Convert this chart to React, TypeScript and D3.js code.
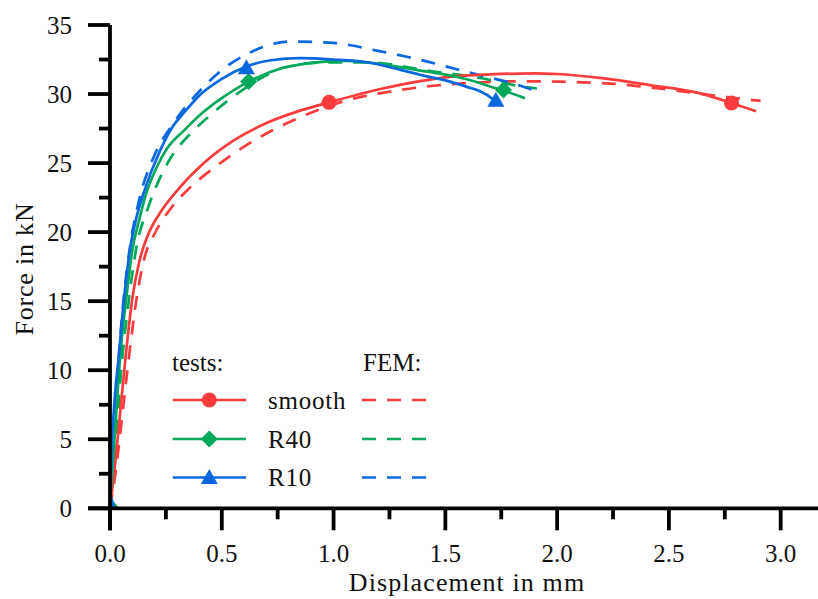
import React from "react";
import * as d3 from "d3";

type Pt = [number, number];

// Force–displacement curves (displacement in mm, force in kN)
const smoothTest: Pt[] = [
  [0, 0], [0.015, 2], [0.04, 6], [0.07, 11], [0.1, 15.2], [0.13, 17.8], [0.17, 19.8],
  [0.22, 21.3], [0.3, 23.0], [0.42, 25.0], [0.55, 26.6], [0.7, 27.9], [0.85, 28.8],
  [0.98, 29.4], [1.22, 30.4], [1.52, 31.25], [1.7, 31.42], [1.9, 31.5], [2.0, 31.45],
  [2.2, 31.15], [2.415, 30.65], [2.64, 30.05], [2.78, 29.35], [2.89, 28.75],
];
const smoothFem: Pt[] = [
  [0, 0], [0.02, 2], [0.05, 6], [0.085, 11], [0.12, 15.3], [0.157, 18.3], [0.2, 19.9],
  [0.276, 21.8], [0.35, 23.1], [0.477, 24.8], [0.6, 26.2], [0.73, 27.4], [0.94, 28.9],
  [1.04, 29.45], [1.3, 30.3], [1.446, 30.6], [1.6, 30.8], [1.834, 30.92], [2.01, 30.9],
  [2.16, 30.82], [2.27, 30.72], [2.39, 30.52], [2.52, 30.28], [2.64, 30.02], [2.76, 29.78],
  [2.91, 29.5],
];
const r40Test: Pt[] = [
  [0, 0.4], [0.02, 5], [0.048, 11.5], [0.075, 15.5], [0.1, 18.7], [0.134, 21.1],
  [0.16, 22.7], [0.209, 24.7], [0.253, 26.0], [0.33, 27.35], [0.4, 28.45], [0.5, 29.7],
  [0.62, 30.9], [0.775, 31.9], [0.924, 32.3], [1.05, 32.4], [1.148, 32.3], [1.37, 31.75],
  [1.52, 31.35], [1.6, 31.05], [1.73, 30.4], [1.76, 30.25], [1.856, 29.7],
];
const r40Toe: Pt[] = [[0.035, 0], [0.002, 0.6]];
const r40Fem: Pt[] = [
  [0, 0], [0.02, 3], [0.05, 10], [0.08, 14.5], [0.116, 18.7], [0.171, 21.8], [0.22, 23.8],
  [0.276, 25.5], [0.358, 27.1], [0.447, 28.45], [0.55, 29.8], [0.65, 30.9], [0.775, 31.9],
  [0.97, 32.3], [1.15, 32.3], [1.44, 31.65], [1.58, 31.35], [1.71, 31.0], [1.79, 30.7],
  [1.91, 30.4],
];
const r10Test: Pt[] = [
  [0, 0.8], [0.01, 5], [0.042, 11.5], [0.065, 15.5], [0.089, 18.7], [0.119, 21.1],
  [0.15, 22.8], [0.224, 25.9], [0.283, 27.7], [0.328, 28.6], [0.4, 29.9], [0.5, 31.1],
  [0.61, 32.0], [0.72, 32.45], [0.85, 32.6], [1.0, 32.5], [1.148, 32.3], [1.3, 31.75],
  [1.386, 31.4], [1.52, 30.9], [1.6, 30.5], [1.655, 30.2], [1.707, 29.7], [1.725, 29.4],
];
const r10Toe: Pt[] = [[0.018, 0], [0.001, 1]];
const r10Fem: Pt[] = [
  [0, 0], [0.01, 3], [0.035, 10], [0.06, 15], [0.09, 19], [0.13, 22.3], [0.2, 25.6],
  [0.28, 27.8], [0.35, 29.3], [0.4, 30.2], [0.49, 31.6], [0.626, 33.0], [0.805, 33.8],
  [1.0, 33.7], [1.176, 33.2], [1.327, 32.7], [1.42, 32.35], [1.55, 31.8], [1.67, 31.3],
  [1.774, 30.9], [1.908, 30.2],
];

// Marker positions on the test curves
const smoothMarks: Pt[] = [[0.98, 29.4], [2.78, 29.35]];
const r40Marks: Pt[] = [[0.62, 30.9], [1.76, 30.3]];
const r10Marks: Pt[] = [[0.61, 31.9], [1.726, 29.55]];

const seriesNames = ["smooth", "R40", "R10"];
const seriesColors = ["#fa3c3c", "#00a85a", "#0a68df"];

const xTicks = [0, 0.5, 1.0, 1.5, 2.0, 2.5, 3.0];
const xMinorTicks = [0.25, 0.75, 1.25, 1.75, 2.25, 2.75];
const yTicks = [0, 5, 10, 15, 20, 25, 30, 35];
const yMinorTicks = [2.5, 7.5, 12.5, 17.5, 22.5, 27.5, 32.5];

const W = 818;
const H = 599;
const FONT = "'Liberation Serif', 'Times New Roman', serif";

function Marker({ kind, x, y, color }: { kind: string; x: number; y: number; color: string }) {
  if (kind === "circle") return <circle cx={x} cy={y} r={7.5} fill={color} />;
  if (kind === "diamond") {
    const s = 8.5;
    return <path d={`M${x},${y - s}L${x + s},${y}L${x},${y + s}L${x - s},${y}Z`} fill={color} />;
  }
  const s = 8.5;
  return <path d={`M${x},${y - s}L${x + s},${y + 6.5}L${x - s},${y + 6.5}Z`} fill={color} />;
}

export default function App() {
  const x = d3.scaleLinear().domain([0, 3]).range([110, 780.7]);
  const y = d3.scaleLinear().domain([0, 35]).range([508.3, 25]);
  const line = d3
    .line<Pt>()
    .x((d) => x(d[0]))
    .y((d) => y(d[1]))
    .curve(d3.curveMonotoneX);
  const straight = d3
    .line<Pt>()
    .x((d) => x(d[0]))
    .y((d) => y(d[1]));

  const tests = [smoothTest, r40Test, r10Test];
  const fems = [smoothFem, r40Fem, r10Fem];
  const toes = [null, r40Toe, r10Toe];
  const marks = [smoothMarks, r40Marks, r10Marks];
  const kinds = ["circle", "diamond", "triangle"];
  const dash = "14 11";
  const lw = 2.7;
  const legendRows = [400, 439, 477.5];

  return (
    <svg
      width={W}
      height={H}
      style={{ position: "absolute", left: 0, top: 0, background: "#fff" }}
      fontFamily={FONT}
    >
      <rect width={W} height={H} fill="#fff" />

      {/* curves */}
      {fems.map((d, i) => (
        <path key={"f" + i} d={line(d) || ""} fill="none" stroke={seriesColors[i]}
          strokeWidth={lw} strokeDasharray={dash} />
      ))}
      {tests.map((d, i) => (
        <path key={"t" + i} d={line(d) || ""} fill="none" stroke={seriesColors[i]}
          strokeWidth={lw} strokeLinejoin="round" />
      ))}
      {toes.map((d, i) =>
        d ? (
          <path key={"toe" + i} d={straight(d) || ""} fill="none" stroke={seriesColors[i]}
            strokeWidth={lw} />
        ) : null
      )}
      {marks.map((ms, i) =>
        ms.map((m, j) => (
          <Marker key={`m${i}-${j}`} kind={kinds[i]} x={x(m[0])} y={y(m[1])} color={seriesColors[i]} />
        ))
      )}

      {/* axes */}
      <g stroke="#000" strokeWidth={3.8}>
        <line x1={x(0)} x2={x(0)} y1={y(35)} y2={y(0) + 22} />
        <line x1={x(0) - 22} x2={W} y1={y(0)} y2={y(0)} />
        {yTicks.map((t) => (
          <line key={"yt" + t} x1={x(0) - 22} x2={x(0)} y1={y(t)} y2={y(t)} />
        ))}
        {yMinorTicks.map((t) => (
          <line key={"ym" + t} x1={x(0) - 11} x2={x(0)} y1={y(t)} y2={y(t)} />
        ))}
        {xTicks.map((t) => (
          <line key={"xt" + t} x1={x(t)} x2={x(t)} y1={y(0)} y2={y(0) + 22} />
        ))}
        {xMinorTicks.map((t) => (
          <line key={"xm" + t} x1={x(t)} x2={x(t)} y1={y(0)} y2={y(0) + 11} />
        ))}
      </g>
      <g fontSize={25} fill="#111">
        {yTicks.map((t) => (
          <text key={"yl" + t} x={72} y={y(t)} textAnchor="end" dominantBaseline="central">
            {t}
          </text>
        ))}
        {xTicks.map((t) => (
          <text key={"xl" + t} x={x(t)} y={562} textAnchor="middle">
            {t.toFixed(1)}
          </text>
        ))}
      </g>
      <text x={467} y={591} textAnchor="middle" fontSize={26} letterSpacing={1.1} fill="#111">
        Displacement in mm
      </text>
      <text transform="translate(33,269) rotate(-90)" textAnchor="middle" fontSize={26}
        letterSpacing={0.8} fill="#111">
        Force in kN
      </text>

      {/* legend */}
      <g fontSize={25} fill="#111">
        <text x={172} y={371}>tests:</text>
        <text x={363} y={371}>FEM:</text>
        {seriesNames.map((n, i) => (
          <g key={"lg" + n}>
            <line x1={172.7} x2={246} y1={legendRows[i]} y2={legendRows[i]}
              stroke={seriesColors[i]} strokeWidth={lw} />
            <Marker kind={kinds[i]} x={209.3} y={legendRows[i]} color={seriesColors[i]} />
            <text x={268} y={legendRows[i]} dominantBaseline="central" letterSpacing={0.8}>{n}</text>
            <line x1={362} x2={432} y1={legendRows[i]} y2={legendRows[i]}
              stroke={seriesColors[i]} strokeWidth={lw} strokeDasharray="14 11" />
          </g>
        ))}
      </g>
    </svg>
  );
}
